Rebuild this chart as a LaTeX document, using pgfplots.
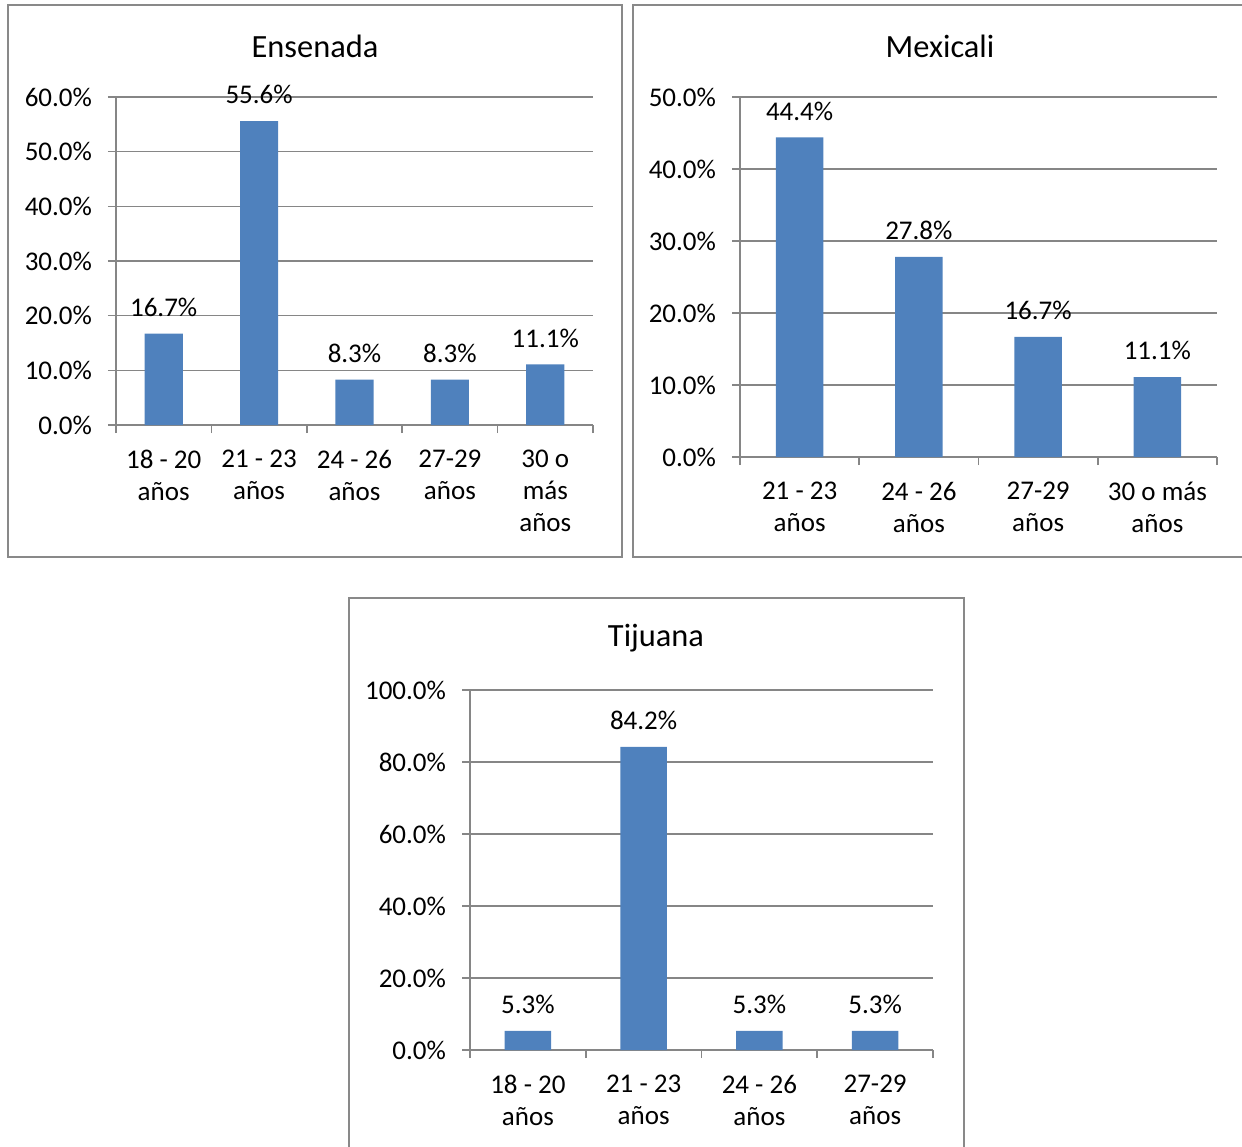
\documentclass[border=0pt]{standalone}
\usepackage{pgfplots}
\pgfplotsset{compat=1.18}
\usepackage{fontspec}
\setmainfont{Carlito}
\definecolor{barblue}{HTML}{4F81BD}
\definecolor{axgray}{HTML}{868686}
\definecolor{framegray}{HTML}{898989}
\pgfplotsset{
  mybars/.style={
    scale only axis,
    ybar,
    ymin=0,
    axis x line=bottom,
    axis y line=left,
    axis line style={draw=axgray, line width=0.8pt, -},
    ymajorgrids,
    grid style={draw=axgray, line width=0.8pt},
    tick align=outside,
    major tick length=4pt,
    minor tick length=4pt,
    xtick=data,
    major x tick style={draw=none},
    minor x tick num=0,
    y tick style={draw=axgray, line width=0.8pt},
    minor x tick style={draw=axgray, line width=0.8pt},
    bar width=0.4,
    /pgf/number format/assume math mode=true,
    yticklabel={\pgfmathprintnumber[fixed,fixed zerofill,precision=1]{\tick}\%},
    ticklabel style={font=\fontsize{13.5}{16}\selectfont},
    yticklabel style={xshift=-4.5pt},
    xticklabel style={align=center, yshift=-5pt},
    nodes near coords={\pgfmathprintnumber[fixed,fixed zerofill,precision=1]{\pgfplotspointmeta}\%},
    nodes near coords style={font=\fontsize{13.5}{16}\selectfont, text=black, yshift=5pt},
  }
}
\begin{document}
\begin{tikzpicture}
\useasboundingbox (0,0) rectangle (621pt,-573pt);
% frames
\draw[framegray, line width=1pt] (4pt,-2.5pt) rectangle (311pt,-278.5pt);
\draw[framegray, line width=1pt] (622pt,-2.5pt) -- (316.5pt,-2.5pt) -- (316.5pt,-278.5pt) -- (622pt,-278.5pt);
\draw[framegray, line width=1pt] (174.5pt,-575pt) -- (174.5pt,-299pt) -- (482pt,-299pt) -- (482pt,-575pt);
% titles
\node[font=\fontsize{16.2}{19}\selectfont] at (157.5pt,-23pt) {Ensenada};
\node[font=\fontsize{16.2}{19}\selectfont] at (470pt,-23pt) {Mexicali};
\node[font=\fontsize{16.2}{19}\selectfont] at (328pt,-319pt) {Tijuana};

\begin{axis}[mybars,
  at={(58pt,-212.5pt)}, anchor=south west,
  width=238.5pt, height=164pt,
  ymax=60, ytick={0,10,...,60},
  xmin=-0.5, xmax=4.5,
  minor xtick={-0.5,0.5,...,4.5},
  xticklabels={{18 - 20\\años},{21 - 23\\años},{24 - 26\\años},{27-29\\años},{30 o\\más\\años}},
  xticklabel style={anchor=north},
]
\addplot[fill=barblue, draw=none] coordinates {(0,16.7) (1,55.6) (2,8.3) (3,8.3) (4,11.1)};
\end{axis}

\begin{axis}[mybars,
  at={(370pt,-228.5pt)}, anchor=south west,
  width=238.5pt, height=180pt,
  ymax=50, ytick={0,10,...,50},
  xmin=-0.5, xmax=3.5,
  minor xtick={-0.5,0.5,...,3.5},
  xticklabels={{21 - 23\\años},{24 - 26\\años},{27-29\\años},{30 o más\\años}},
]
\addplot[fill=barblue, draw=none] coordinates {(0,44.4) (1,27.8) (2,16.7) (3,11.1)};
\end{axis}

\begin{axis}[mybars,
  at={(235pt,-525pt)}, anchor=south west,
  width=231.5pt, height=180pt,
  ymax=100, ytick={0,20,...,100},
  xmin=-0.5, xmax=3.5,
  minor xtick={-0.5,0.5,...,3.5},
  xticklabels={{18 - 20\\años},{21 - 23\\años},{24 - 26\\años},{27-29\\años}},
]
\addplot[fill=barblue, draw=none] coordinates {(0,5.3) (1,84.2) (2,5.3) (3,5.3)};
\end{axis}
\end{tikzpicture}
\end{document}
